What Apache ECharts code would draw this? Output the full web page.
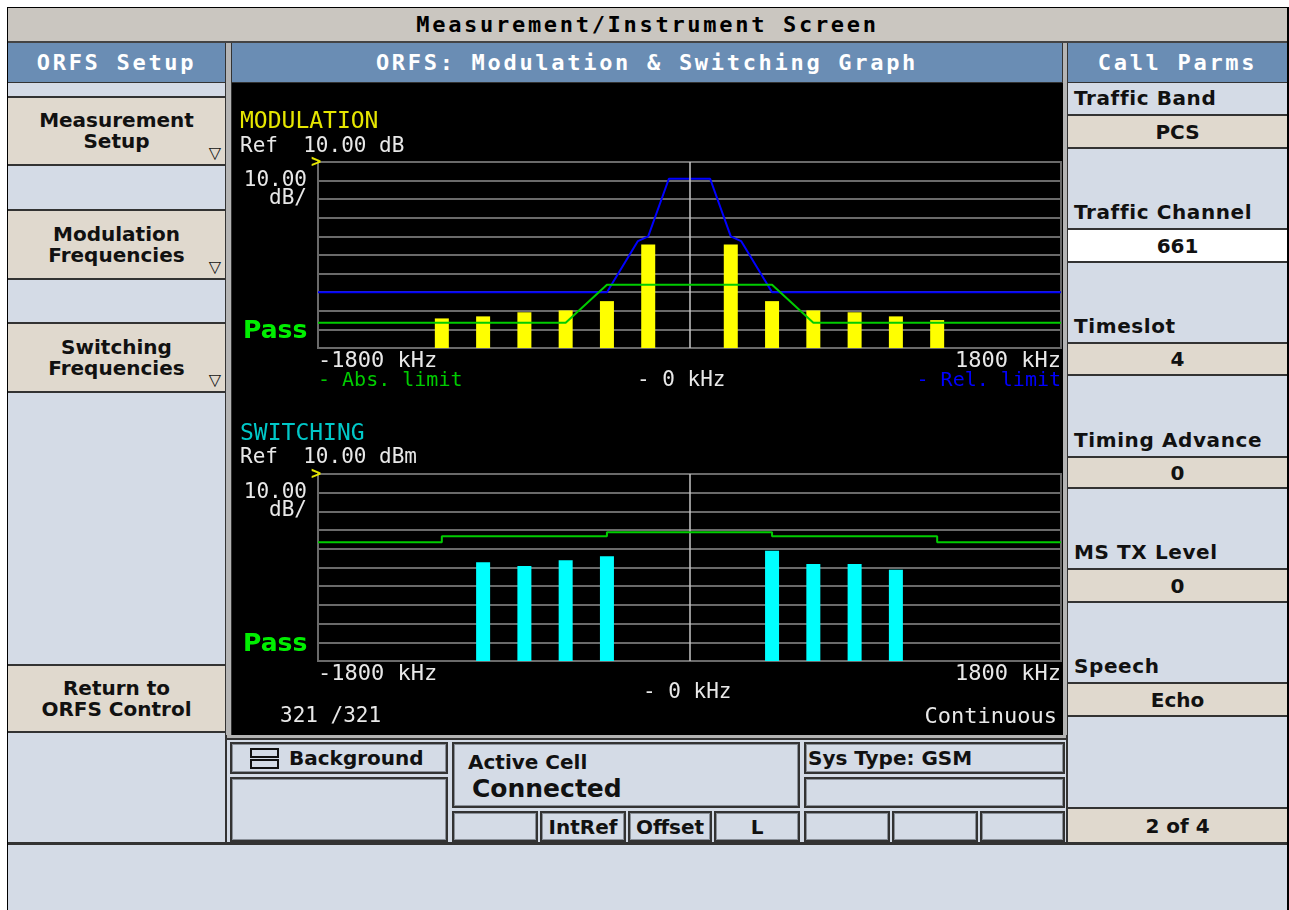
<!DOCTYPE html>
<html><head><meta charset="utf-8">
<script src="https://cdn.jsdelivr.net/npm/echarts@6/dist/echarts.min.js"></script>
<style>
html,body{margin:0;padding:0;background:#fff;width:1289px;height:910px;overflow:hidden;font-family:"DejaVu Sans",sans-serif;}
.a{position:absolute;box-sizing:border-box;}
.frame{left:7px;top:7px;width:1282px;height:903px;background:#d4dbe6;border-left:1px solid #000;border-top:1px solid #000;border-right:2px solid #000}
.title{left:8px;top:8px;width:1279px;height:35px;background:#cac6c0;border-bottom:2px solid #444;font:bold 22px "DejaVu Sans Mono";letter-spacing:2.7px;display:flex;align-items:center;justify-content:center;color:#000}
.hdr{top:43px;height:39px;background:#6a8db4;color:#fff;font:bold 22px "DejaVu Sans Mono";letter-spacing:2.7px;display:flex;align-items:center;justify-content:center;}
.vsep{background:#b4b4b4;border-left:1px solid #333;border-right:1px solid #333}
.lb{background:#d4dbe6;border-bottom:2px solid #333}
.tan{background:#e0d9ce;border-bottom:2px solid #333}
.wh{background:#fff;border-bottom:2px solid #333}
.btn{display:flex;align-items:center;justify-content:center;text-align:center;font:bold 20px "DejaVu Sans";line-height:21px;color:#111}
.tri{position:absolute;right:4px;bottom:3px;font:bold 16px "DejaVu Sans";line-height:16px;color:#111}
.lab{display:flex;align-items:flex-end;padding:0 0 4px 6px;font:bold 20px "DejaVu Sans";letter-spacing:0.6px;line-height:23px;color:#111}
.val{display:flex;align-items:center;justify-content:center;font:bold 20px "DejaVu Sans";color:#111}
.box{background:#d4dbe6;border:2px solid #333;box-shadow:inset 0 0 0 1px #8a9099;font:bold 20px "DejaVu Sans";color:#111}
.cen{display:flex;align-items:center;justify-content:center}
#chart{left:232px;top:83px;width:831px;height:652px;background:#000}
</style></head>
<body>
<div class="a frame"></div>
<div class="a title">Measurement/Instrument Screen</div>
<div class="a hdr" style="left:8px;width:217px">ORFS Setup</div>
<div class="a hdr" style="left:232px;width:830px">ORFS: Modulation &amp; Switching Graph</div>
<div class="a hdr" style="left:1068px;width:219px">Call Parms</div>
<div class="a" style="left:8px;top:82px;width:1279px;height:1px;background:#333"></div>

<!-- separators -->
<div class="a vsep" style="left:225px;top:43px;width:7px;height:695px"></div>
<div class="a vsep" style="left:1062px;top:43px;width:6px;height:695px"></div>
<div class="a" style="left:225px;top:735px;width:2px;height:110px;background:#333"></div>
<div class="a" style="left:1066px;top:735px;width:2px;height:110px;background:#333"></div>
<div class="a" style="left:227px;top:735px;width:839px;height:5px;background:#b4b4b4;border-bottom:2px solid #333"></div>

<!-- left panel -->
<div class="a lb" style="left:8px;top:83px;width:217px;height:15px"></div>
<div class="a tan btn" style="left:8px;top:98px;width:217px;height:68px">Measurement<br>Setup<span class="tri">▽</span></div>
<div class="a lb" style="left:8px;top:166px;width:217px;height:45px"></div>
<div class="a tan btn" style="left:8px;top:211px;width:217px;height:69px">Modulation<br>Frequencies<span class="tri">▽</span></div>
<div class="a lb" style="left:8px;top:280px;width:217px;height:44px"></div>
<div class="a tan btn" style="left:8px;top:324px;width:217px;height:69px">Switching<br>Frequencies<span class="tri">▽</span></div>
<div class="a lb" style="left:8px;top:393px;width:217px;height:273px"></div>
<div class="a tan btn" style="left:8px;top:666px;width:217px;height:67px">Return to<br>ORFS Control</div>
<div class="a lb" style="left:8px;top:733px;width:217px;height:110px;border-bottom:none"></div>

<!-- right panel -->
<div class="a lb lab" style="left:1068px;top:83px;width:219px;height:33px">Traffic Band</div>
<div class="a tan val" style="left:1068px;top:116px;width:219px;height:33px">PCS</div>
<div class="a lb lab" style="left:1068px;top:149px;width:219px;height:81px">Traffic Channel</div>
<div class="a wh val" style="left:1068px;top:230px;width:219px;height:33px">661</div>
<div class="a lb lab" style="left:1068px;top:263px;width:219px;height:81px">Timeslot</div>
<div class="a tan val" style="left:1068px;top:344px;width:219px;height:32px">4</div>
<div class="a lb lab" style="left:1068px;top:376px;width:219px;height:82px">Timing Advance</div>
<div class="a tan val" style="left:1068px;top:458px;width:219px;height:31px">0</div>
<div class="a lb lab" style="left:1068px;top:489px;width:219px;height:81px">MS TX Level</div>
<div class="a tan val" style="left:1068px;top:570px;width:219px;height:33px">0</div>
<div class="a lb lab" style="left:1068px;top:603px;width:219px;height:81px">Speech</div>
<div class="a tan val" style="left:1068px;top:684px;width:219px;height:33px">Echo</div>
<div class="a lb" style="left:1068px;top:717px;width:219px;height:92px"></div>
<div class="a tan val" style="left:1068px;top:809px;width:219px;height:33px;border-bottom:none">2 of 4</div>

<div class="a" style="left:8px;top:842px;width:1279px;height:3px;background:#333"></div>

<!-- status area -->
<div class="a box" style="left:230px;top:742px;width:218px;height:32px">
  <div class="a" style="left:18px;top:4px;width:29px;height:10px;border:2px solid #111"></div>
  <div class="a" style="left:18px;top:15px;width:29px;height:10px;border:2px solid #111"></div>
  <div class="a" style="left:57px;top:2px;line-height:24px">Background</div>
</div>
<div class="a box" style="left:230px;top:777px;width:218px;height:65px"></div>
<div class="a box" style="left:452px;top:742px;width:348px;height:66px">
  <div class="a" style="left:14px;top:6px;line-height:24px">Active Cell</div>
  <div class="a" style="left:18px;top:30px;line-height:30px;font-size:25px">Connected</div>
</div>
<div class="a box" style="left:452px;top:811px;width:86px;height:31px"></div>
<div class="a box cen" style="left:540px;top:811px;width:86px;height:31px">IntRef</div>
<div class="a box cen" style="left:628px;top:811px;width:84px;height:31px">Offset</div>
<div class="a box cen" style="left:714px;top:811px;width:86px;height:31px">L</div>
<div class="a box" style="left:804px;top:742px;width:261px;height:32px">
  <div class="a" style="left:2px;top:2px;line-height:24px">Sys Type: GSM</div>
</div>
<div class="a box" style="left:804px;top:777px;width:261px;height:31px"></div>
<div class="a box" style="left:804px;top:811px;width:86px;height:31px"></div>
<div class="a box" style="left:892px;top:811px;width:86px;height:31px"></div>
<div class="a box" style="left:980px;top:811px;width:85px;height:31px"></div>

<div id="chart" class="a"></div>

<script>
// ---- data ----
const FREQ_SPAN = 1800;          // kHz, half span
const REF_LEVEL = 10;            // dB / dBm at top of graticule
const DB_PER_DIV = 10;
const DIVISIONS = 10;
const xTickLabels = ['-1800 kHz', '- 0 kHz', '1800 kHz'];

const modFreqs  = [-1200, -1000, -800, -600, -400, -200, 200, 400, 600, 800, 1000, 1200];
const modLevels = [-74.1, -73.0, -70.8, -69.8, -64.8, -34.3, -34.3, -64.8, -69.8, -70.8, -73.0, -75.0];

const absLimitFreqs = [-1800, -600, -400, 400, 600, 1800];
const absLimitDb    = [-76.4, -76.4, -56, -56, -76.4, -76.4];

const relLimitFreqs = [-1800, -400, -250, -200, -100, 100, 200, 250, 400, 1800];
const relLimitDb    = [-60, -60, -32.5, -30, 1, 1, -30, -32.5, -60, -60];

const swFreqs  = [-1000, -800, -600, -400, 400, 600, 800, 1000];
const swLevels = [-37.2, -39.2, -36.1, -34.0, -31.0, -38.1, -38.1, -41.2];

const swLimitFreqs = [-1800, -1200, -400, 400, 1200, 1800];
const swLimitDb    = [-26.5, -23.3, -21.2, -23.3, -26.5, -26.5];

const counterText = '321 /321';
const modeText = 'Continuous';

// ---- chart ----
const FLOOR = REF_LEVEL - DB_PER_DIV * DIVISIONS;
const toAxis = v => v - FLOOR;
const pairs = (xs, ys) => xs.map((x, i) => [x, toAxis(ys[i])]);

const MONO = '"DejaVu Sans Mono", monospace';
const WHITE = '#e8e8e8';
const GRIDC = '#6a6a6a';

function gridDef(top, height) {
  return { left: 86, top: top, width: 743, height: height, show: true,
           borderColor: GRIDC, borderWidth: 2, backgroundColor: 'transparent', outerBoundsMode: 'none' };
}
function xAxisDef(idx) {
  return {
    gridIndex: idx, type: 'value', min: -FREQ_SPAN, max: FREQ_SPAN, interval: FREQ_SPAN,
    axisLine: { show: false }, axisTick: { show: false }, splitLine: { show: false },
    axisLabel: {
      show: true, color: WHITE, fontFamily: MONO, fontSize: 22, margin: 2,
      showMinLabel: true, showMaxLabel: true, alignMinLabel: 'left', alignMaxLabel: 'right',
      formatter: v => v === -FREQ_SPAN ? xTickLabels[0] : (v === FREQ_SPAN ? xTickLabels[2] : '')
    }
  };
}
function yAxisDef(idx) {
  return {
    gridIndex: idx, type: 'value', min: 0, max: DB_PER_DIV * DIVISIONS, interval: DB_PER_DIV,
    axisLine: { show: false }, axisTick: { show: false }, axisLabel: { show: false },
    splitLine: { show: true, lineStyle: { color: GRIDC, width: 2 } }
  };
}
const centerLine = {
  silent: true, symbol: 'none', label: { show: false },
  lineStyle: { color: '#c4c4c4', width: 1.5, type: 'solid' },
  data: [{ xAxis: 0 }]
};

function txt(x, y, text, fill, font, align) {
  return { type: 'text', x: x, y: y, silent: true, z: 100,
    style: { text: text, fill: fill, font: font || ('22px ' + MONO),
             align: align || 'left', textAlign: align || 'left',
             verticalAlign: 'middle', textVerticalAlign: 'middle' } };
}
const refStr = REF_LEVEL.toFixed(2);
const passFont = 'bold 25px "DejaVu Sans", sans-serif';
const F20 = '20px ' + MONO, F21 = '21px ' + MONO, F22 = '22px ' + MONO, F23 = '23px ' + MONO;
const markFont = 'bold 17px ' + MONO;

const option = {
  animation: false,
  backgroundColor: '#000',
  grid: [gridDef(79, 186), gridDef(391, 187)],
  xAxis: [xAxisDef(0), xAxisDef(1)],
  yAxis: [yAxisDef(0), yAxisDef(1)],
  series: [
    { type: 'bar', xAxisIndex: 0, yAxisIndex: 0, barWidth: 14, z: 2,
      itemStyle: { color: '#ffff00' }, data: pairs(modFreqs, modLevels), markLine: centerLine },
    { type: 'line', xAxisIndex: 0, yAxisIndex: 0, symbol: 'none', z: 4,
      lineStyle: { color: '#0000ff', width: 2 }, data: pairs(relLimitFreqs, relLimitDb) },
    { type: 'line', xAxisIndex: 0, yAxisIndex: 0, symbol: 'none', z: 5,
      lineStyle: { color: '#00cc00', width: 2 }, data: pairs(absLimitFreqs, absLimitDb) },
    { type: 'bar', xAxisIndex: 1, yAxisIndex: 1, barWidth: 14, z: 2,
      itemStyle: { color: '#00ffff' }, data: pairs(swFreqs, swLevels), markLine: centerLine },
    { type: 'line', xAxisIndex: 1, yAxisIndex: 1, symbol: 'none', step: 'end', z: 5,
      lineStyle: { color: '#00cc00', width: 2 }, data: pairs(swLimitFreqs, swLimitDb) }
  ],
  graphic: [
    txt(8, 39, 'MODULATION', '#e6e600', F23),
    txt(8, 64, 'Ref  ' + refStr + ' dB', WHITE, F21),
    txt(79, 80, '>', '#e6e600', markFont),
    txt(75, 98, refStr, WHITE, F21, 'right'),
    txt(75, 116, 'dB/', WHITE, F21, 'right'),
    txt(11, 248, 'Pass', '#00ee00', passFont),
    txt(86, 298, '- Abs. limit', '#00cc00', F20),
    txt(405, 298, xTickLabels[1], WHITE, F21),
    txt(829, 298, '- Rel. limit', '#0000ff', F20, 'right'),

    txt(8, 351, 'SWITCHING', '#00c8c8', F23),
    txt(8, 375, 'Ref  ' + refStr + ' dBm', WHITE, F21),
    txt(79, 392, '>', '#e6e600', markFont),
    txt(75, 410, refStr, WHITE, F21, 'right'),
    txt(75, 428, 'dB/', WHITE, F21, 'right'),
    txt(11, 561, 'Pass', '#00ee00', passFont),
    txt(411, 610, xTickLabels[1], WHITE, F21),
    txt(48, 634, counterText, WHITE, F21),
    txt(825, 634, modeText, WHITE, F22, 'right')
  ]
};
const chart = echarts.init(document.getElementById('chart'), null, { renderer: 'canvas' });
chart.setOption(option);
</script>
</body></html>
